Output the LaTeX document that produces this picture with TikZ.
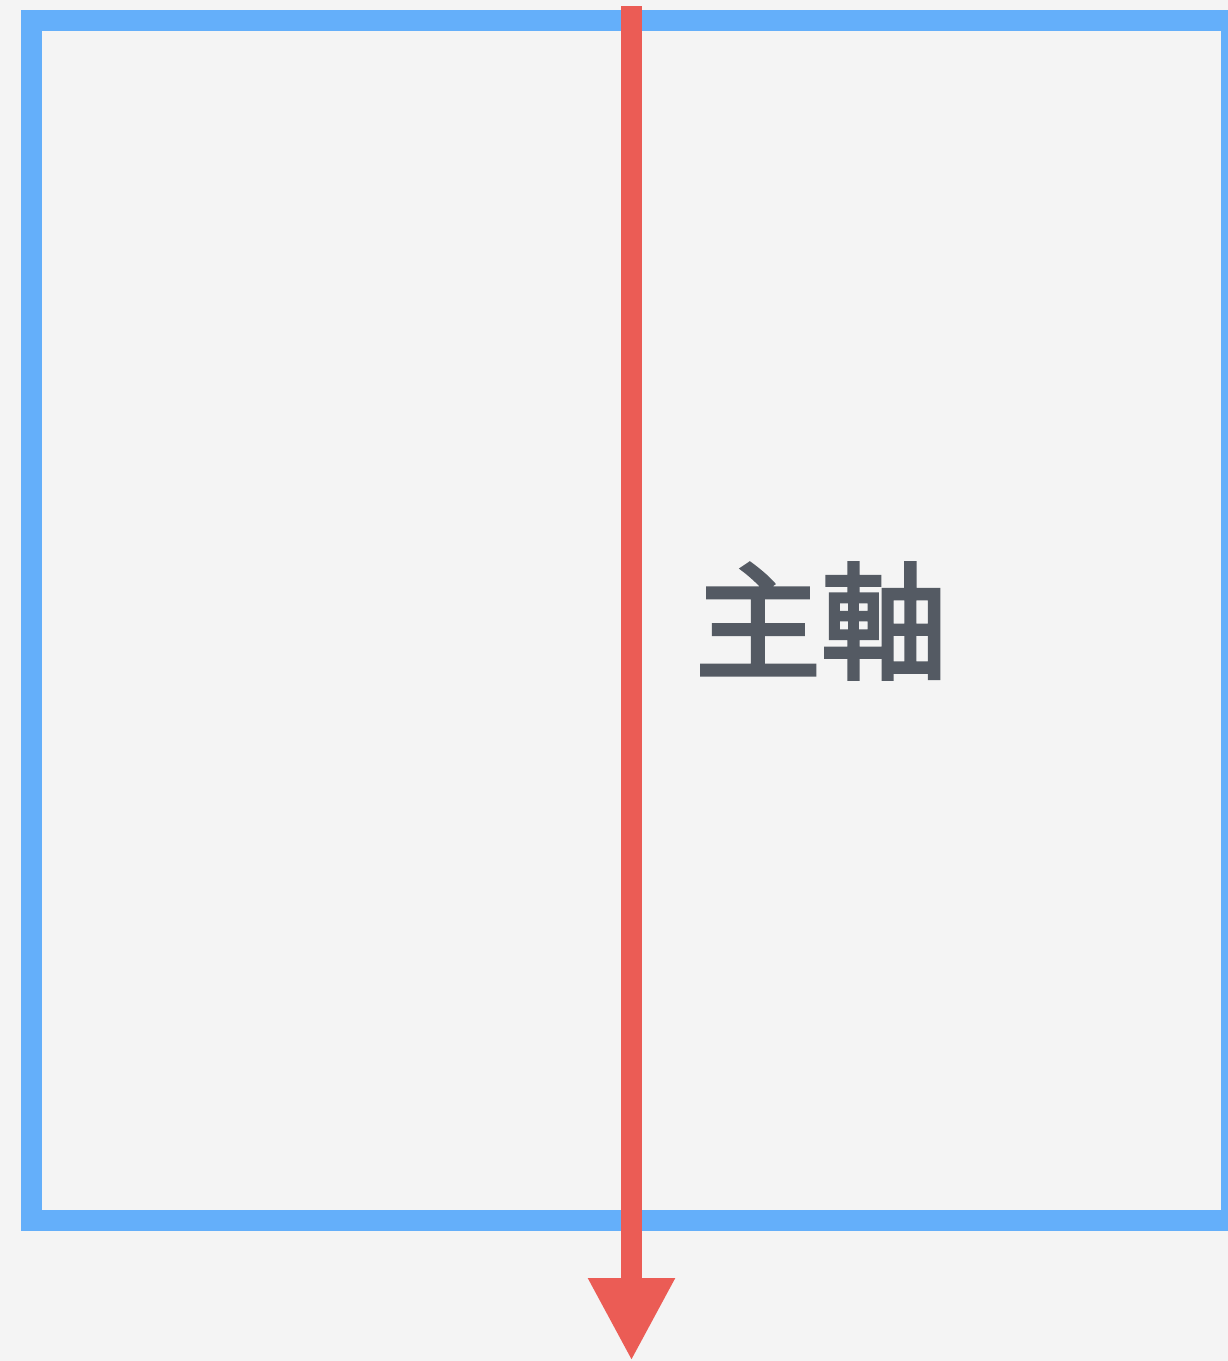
\documentclass[tikz,border=0pt]{standalone}
\usepackage{fontspec}
\newfontfamily\cjk[FakeBold=3]{Noto Sans CJK TC}
\usetikzlibrary{arrows.meta}
\definecolor{bgc}{HTML}{F4F4F4}
\definecolor{boxblue}{HTML}{64AFFA}
\definecolor{axisred}{HTML}{EB5C55}
\definecolor{txtgray}{HTML}{545A63}
\tikzset{
  boxline/.style={draw=boxblue, line width=21pt},
  axisarrow/.style={draw=axisred, line width=21pt, -{Triangle[width=81pt,length=83pt,fill=axisred]}},
  axislabel/.style={text=txtgray, font=\cjk\fontsize{126pt}{130pt}\selectfont, inner sep=0pt}
}
\begin{document}
\begin{tikzpicture}[x=1pt,y=-1pt]
\fill[bgc] (0,0) rectangle (1228,1361);
\useasboundingbox (0,0) rectangle (1228,1361);
\draw[boxline] (31.5,20.5) rectangle (1231.5,1220.5);
\coordinate (atop) at (631.5,6);
\coordinate (abot) at (631.5,1361);
\draw[axisarrow] (atop) -- (abot);
\node[axislabel] (lbl) at (821,621) {主軸};
\end{tikzpicture}
\end{document}
